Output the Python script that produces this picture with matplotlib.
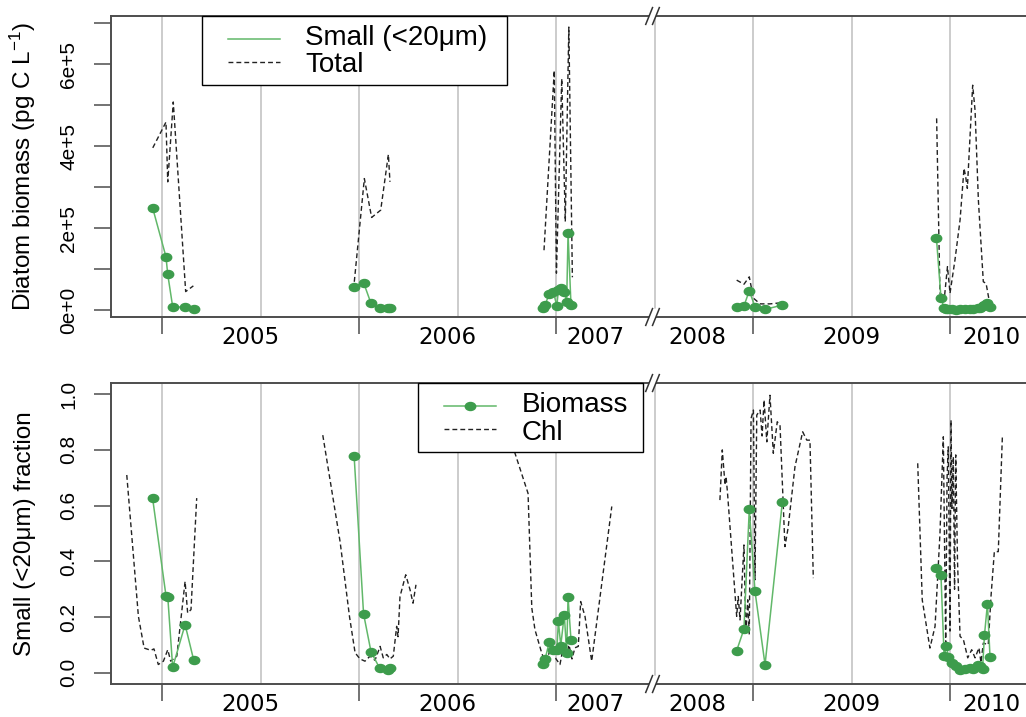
import numpy as np
import matplotlib
matplotlib.use('Agg')
import matplotlib.pyplot as plt
from matplotlib.path import Path
from matplotlib.transforms import Affine2D
from matplotlib.patches import Rectangle, Polygon
from matplotlib.lines import Line2D

# sampling dates as decimal years, one list per summer season
small_years = [
    [2004.952, 2005.020, 2005.029, 2005.054, 2005.117, 2005.161],
    [2005.975, 2006.023, 2006.061, 2006.104, 2006.145, 2006.157],
    [2006.932, 2006.944, 2006.966, 2006.986, 2007.004, 2007.012, 2007.024,
     2007.042, 2007.054, 2007.061, 2007.076],
    [2008.917, 2008.954, 2008.981, 2009.010, 2009.061, 2009.149],
    [2009.931, 2009.954, 2009.970, 2009.982, 2009.992, 2010.008, 2010.028,
     2010.051, 2010.076, 2010.102, 2010.119, 2010.140, 2010.152, 2010.165,
     2010.175, 2010.190, 2010.203],
]
small_biomass = [
    [250000, 130000, 87000, 8000, 6600, 2400],
    [57000, 67000, 16000, 4000, 4000, 5000],
    [4000, 12000, 40000, 45000, 10000, 48000, 55000, 45000, 19000, 187000, 12000],
    [6600, 10000, 47000, 8000, 1700, 12000],
    [176000, 30000, 4000, 3000, 2500, 1500, 1000, 1500, 2000, 2500, 3000,
     5000, 6000, 9000, 12000, 18000, 7000],
]
small_fraction = [
    [0.627, 0.277, 0.274, 0.020, 0.173, 0.045],
    [0.779, 0.212, 0.075, 0.018, 0.012, 0.018],
    [0.033, 0.048, 0.111, 0.081, 0.081, 0.185, 0.098, 0.209, 0.072, 0.272, 0.117],
    [0.080, 0.157, 0.588, 0.293, 0.029, 0.614],
    [0.376, 0.350, 0.062, 0.095, 0.058, 0.036, 0.024, 0.012, 0.014, 0.018,
     0.014, 0.030, 0.024, 0.014, 0.137, 0.248, 0.057],
]

total_years = [
    [2004.953, 2005.020, 2005.029, 2005.057, 2005.120, 2005.159],
    [2005.976, 2006.027, 2006.064, 2006.110, 2006.149, 2006.157],
    [2006.939, 2006.991, 2007.002, 2007.029, 2007.047, 2007.065, 2007.083],
    [2008.917, 2008.954, 2008.981, 2009.002, 2009.036, 2009.086, 2009.149],
    [2009.932, 2009.949, 2009.972, 2009.987, 2010.000, 2010.025, 2010.051,
     2010.071, 2010.079, 2010.088, 2010.115, 2010.127, 2010.144, 2010.169,
     2010.183, 2010.200],
]
total_biomass = [
    [396000, 459000, 313000, 508000, 45000, 59000],
    [69000, 321000, 226000, 244000, 380000, 313000],
    [146000, 585000, 90000, 565000, 216000, 691000, 80000],
    [73000, 63000, 81000, 29000, 15000, 15000, 18000],
    [468000, 41000, 33000, 106000, 41000, 122000, 220000, 346000, 327000,
     297000, 549000, 488000, 268000, 69000, 65000, 20000],
]

chl_years = [
    [2004.821, 2004.880, 2004.909, 2004.943, 2004.959, 2004.981, 2005.007,
     2005.029, 2005.044, 2005.075, 2005.117, 2005.130, 2005.147, 2005.176],
    [2005.816, 2005.904, 2005.952, 2005.980, 2006.005, 2006.030, 2006.056,
     2006.081, 2006.107, 2006.123, 2006.141, 2006.157, 2006.174, 2006.191,
     2006.198, 2006.208, 2006.237, 2006.259, 2006.274, 2006.289],
    [2006.777, 2006.858, 2006.877, 2006.893, 2006.927, 2006.944, 2006.959,
     2006.980, 2007.000, 2007.020, 2007.036, 2007.051, 2007.066, 2007.081,
     2007.096, 2007.113, 2007.125, 2007.147, 2007.181, 2007.283],
    [2008.832, 2008.844, 2008.858, 2008.863, 2008.870, 2008.917, 2008.925,
     2008.934, 2008.954, 2008.964, 2008.973, 2008.981, 2008.990, 2009.002,
     2009.010, 2009.019, 2009.036, 2009.046, 2009.056, 2009.070, 2009.086,
     2009.103, 2009.123, 2009.137, 2009.162, 2009.178, 2009.213, 2009.252,
     2009.273, 2009.289, 2009.306],
    [2009.836, 2009.859, 2009.898, 2009.924, 2009.949, 2009.966, 2009.978,
     2009.985, 2009.991, 2010.000, 2010.005, 2010.010, 2010.017, 2010.023,
     2010.029, 2010.038, 2010.051, 2010.068, 2010.090, 2010.110, 2010.127,
     2010.147, 2010.157, 2010.169, 2010.194, 2010.208, 2010.225, 2010.245,
     2010.266],
]
chl_fraction = [
    [0.710, 0.203, 0.089, 0.081, 0.086, 0.030, 0.042, 0.083, 0.042, 0.060,
     0.328, 0.215, 0.227, 0.627],
    [0.853, 0.470, 0.200, 0.072, 0.050, 0.042, 0.060, 0.045, 0.095, 0.054,
     0.066, 0.050, 0.060, 0.167, 0.130, 0.274, 0.352, 0.298, 0.250, 0.316],
    [0.820, 0.644, 0.233, 0.155, 0.072, 0.040, 0.060, 0.100, 0.050, 0.030,
     0.090, 0.060, 0.100, 0.050, 0.090, 0.095, 0.256, 0.203, 0.042, 0.597],
    [0.620, 0.800, 0.674, 0.704, 0.650, 0.203, 0.274, 0.190, 0.459, 0.137,
     0.262, 0.137, 0.913, 0.943, 0.334, 0.925, 0.943, 0.850, 0.979, 0.829,
     0.996, 0.788, 0.901, 0.889, 0.453, 0.520, 0.740, 0.865, 0.835, 0.835,
     0.340],
    [0.752, 0.262, 0.089, 0.167, 0.500, 0.847, 0.107, 0.700, 0.811, 0.150,
     0.907, 0.590, 0.776, 0.300, 0.782, 0.400, 0.131, 0.119, 0.054, 0.083,
     0.054, 0.090, 0.037, 0.107, 0.101, 0.274, 0.435, 0.435, 0.853],
]

year_ticks = [2005, 2006, 2007, 2009, 2010]
label_years = [2005.45, 2006.45, 2007.2, 2008.72, 2009.5, 2010.21]
year_labels = ['2005', '2006', '2007', '2008', '2009', '2010']

biomass_ticks = [0, 100000, 200000, 300000, 400000, 500000, 600000, 700000]
biomass_labels = ['0e+0', '', '2e+5', '', '4e+5', '', '6e+5', '']
fraction_ticks = [0.0, 0.2, 0.4, 0.6, 0.8, 1.0]
fraction_labels = ['0.0', '0.2', '0.4', '0.6', '0.8', '1.0']

plt.rcParams['font.family'] = ['Liberation Sans', 'DejaVu Sans']
plt.rcParams['mathtext.fontset'] = 'custom'
plt.rcParams['mathtext.rm'] = 'Liberation Sans'
plt.rcParams['mathtext.it'] = 'Liberation Sans:italic'

GREEN_DOT = '#3d9c4c'
GREEN_LINE = '#62b86a'
DASH = '#222222'
FRAME = '#4d4d4d'
DASHES = (3.5, 2.2)
dot = Path.unit_circle().transformed(Affine2D().scale(1.3, 1.0))


def squeeze(years):
    # the 2007/08 season is cut out of the time axis
    y = np.asarray(years, dtype=float)
    return np.where(y > 2008, y - 1.0, y)


def setup_axes(ax):
    ax.set_xlim(2004.741, 2009.406)
    for g in np.arange(2005, 2009.01, 0.5):
        ax.axvline(g, color='#bebebe', lw=1.1, zorder=0)
    ax.set_xticks(squeeze(year_ticks))
    ax.set_xticklabels([])
    ax.set_xticks(squeeze(label_years), minor=True)
    ax.set_xticklabels(year_labels, minor=True, fontsize=16.5,
                       family='DejaVu Sans')
    ax.tick_params(axis='x', which='major', length=12, width=1.1, color=FRAME)
    ax.tick_params(axis='x', which='minor', length=0, pad=6.5)
    ax.tick_params(axis='y', length=12, width=1.1, color=FRAME,
                   labelsize=15, labelrotation=90, pad=11.5)
    for lbl in ax.get_yticklabels():
        lbl.set_va('center')
    for sp in ax.spines.values():
        sp.set_color(FRAME)
        sp.set_linewidth(1.4)
    ax.spines['right'].set_visible(False)

    # "//" break marks on top and bottom frame
    x0, x1 = ax.get_xlim()
    xb = (2007.5 - x0) / (x1 - x0) - 2.0 / ax.bbox.width
    dx = 3.4 / ax.bbox.width
    dy = 8.4 / ax.bbox.height
    half = 3.4 / ax.bbox.width
    for yb in (0.0, 1.0):
        ax.add_patch(Polygon([(xb - half - dx, yb - dy), (xb - half + dx, yb + dy),
                              (xb + half + dx, yb + dy), (xb + half - dx, yb - dy)],
                             closed=True, transform=ax.transAxes, facecolor='white',
                             edgecolor='none', clip_on=False, zorder=5))
        for off in (-half, half):
            ax.add_line(Line2D([xb + off - dx, xb + off + dx], [yb - dy, yb + dy],
                               transform=ax.transAxes, color='#333333', lw=1.1,
                               clip_on=False, zorder=6))


def draw_key(ax, box, rows, text_x, handle_x):
    bx0, bx1, by0 = box
    ax.add_patch(Rectangle((bx0, by0), bx1 - bx0, 1.0 - by0, transform=ax.transAxes,
                           facecolor='white', edgecolor='black', lw=1.0,
                           zorder=7, clip_on=False))
    for label, line_y, base_y, style in rows:
        ax.add_line(Line2D(handle_x, [line_y] * len(handle_x), transform=ax.transAxes,
                           zorder=8, clip_on=False, **style))
        ax.text(text_x, base_y, label, transform=ax.transAxes, fontsize=20,
                va='baseline', ha='left', zorder=8)


fig = plt.figure(figsize=(10.26, 7.17), dpi=100)
ax1 = fig.add_axes([0.1082, 0.5579, 0.8957, 0.4198])
ax2 = fig.add_axes([0.1082, 0.0460, 0.8957, 0.4198])

# top panel: biomass
for t, v in zip(total_years, total_biomass):
    ax1.plot(squeeze(t), v, color=DASH, lw=1.0, dashes=DASHES, zorder=2)
for t, v in zip(small_years, small_biomass):
    ax1.plot(squeeze(t), v, color=GREEN_LINE, lw=1.1, zorder=3)
    ax1.plot(squeeze(t), v, ls='none', marker=dot, ms=7.5, color=GREEN_DOT, zorder=4)
ax1.set_ylim(-17000, 718000)
ax1.set_yticks(biomass_ticks)
ax1.set_yticklabels(biomass_labels)
ax1.set_ylabel(r'Diatom biomass (pg C L$^{-1}$)', fontsize=17.5, va='center')
ax1.yaxis.set_label_coords(-0.0958, 0.5)
setup_axes(ax1)
draw_key(ax1, (0.0990, 0.4309, 0.7708),
         [('Small (<20μm)', 0.9236, 0.9037, dict(color=GREEN_LINE, lw=1.1)),
          ('Total', 0.8482, 0.8150, dict(color=DASH, lw=1.0, dashes=DASHES))],
         0.2111, [0.1273, 0.1839])

# bottom panel: small size fraction
for t, v in zip(chl_years, chl_fraction):
    ax2.plot(squeeze(t), v, color=DASH, lw=1.0, dashes=DASHES, zorder=2)
for t, v in zip(small_years, small_fraction):
    ax2.plot(squeeze(t), v, color=GREEN_LINE, lw=1.1, zorder=3)
    ax2.plot(squeeze(t), v, ls='none', marker=dot, ms=7.5, color=GREEN_DOT, zorder=4)
ax2.set_ylim(-0.04, 1.04)
ax2.set_yticks(fraction_ticks)
ax2.set_yticklabels(fraction_labels)
ax2.set_ylabel('Small (<20μm) fraction', fontsize=17.5, va='center')
ax2.yaxis.set_label_coords(-0.094, 0.5)
setup_axes(ax2)
draw_key(ax2, (0.3341, 0.5789, 0.7708),
         [('Biomass', 0.9246, 0.9047, dict(color=GREEN_LINE, lw=1.1, marker=dot,
                                            ms=7.5, mfc=GREEN_DOT, mec=GREEN_DOT,
                                            markevery=[1])),
          ('Chl', 0.8472, 0.8106, dict(color=DASH, lw=1.0, dashes=DASHES))],
         0.4472, [0.3624, 0.3907, 0.4189])

fig.savefig('out.png', dpi=100)
